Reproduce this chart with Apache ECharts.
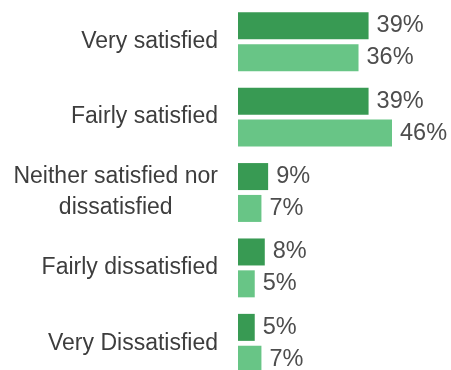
<!DOCTYPE html>
<html><head><meta charset="utf-8">
<script src="https://cdn.jsdelivr.net/npm/echarts@6/dist/echarts.min.js"></script>
<style>html,body{margin:0;padding:0;background:#fff}#c{width:451px;height:370px}</style>
</head><body><div id="c"></div>
<script>
const categories = ["Very satisfied","Fairly satisfied","Neither satisfied nor\ndissatisfied","Fairly dissatisfied","Very Dissatisfied"];
const seriesA = [39,39,9,8,5];
const seriesB = [36,46,7,5,7];
const chart = echarts.init(document.getElementById('c'));
const FF = 'Liberation Sans, Arial, sans-serif';
const lbl = {show:true,position:'right',distance:8,formatter:'{c}%',color:'#4d4d4d',fontFamily:FF,fontSize:23.5};
chart.setOption({
  animation:false,
  grid:{left:238,top:4,width:154,height:377,containLabel:false,outerBoundsMode:'none'},
  xAxis:{type:'value',min:0,max:46,show:false},
  yAxis:{type:'category',data:categories,inverse:true,
    axisLine:{show:false},axisTick:{show:false},splitLine:{show:false},
    axisLabel:{margin:20,color:'#3d3d3d',fontFamily:FF,fontSize:23,lineHeight:31,align:'right',
      formatter:function(v){
        if (v.indexOf('\n')<0) return v;
        return v.split('\n').map(function(s){return '{c|'+s+'}';}).join('\n');
      },
      rich:{c:{align:'center',color:'#3d3d3d',fontFamily:FF,fontSize:23,lineHeight:31}}
    }},
  series:[
    {type:'bar',data:seriesA,barWidth:27,barGap:'18%',itemStyle:{color:'#389a53'},label:lbl},
    {type:'bar',data:seriesB,barWidth:27,barGap:'18%',itemStyle:{color:'#68c586'},label:lbl}
  ]
});
</script></body></html>
